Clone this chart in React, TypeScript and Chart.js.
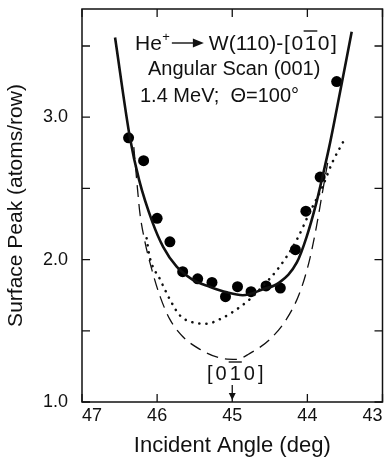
import React, { useEffect, useRef } from 'react';
import { Chart, registerables } from 'chart.js';

Chart.register(...registerables);

const FONT = "'Liberation Sans', Arial, Helvetica, sans-serif";
const INK = '#111';

// Axis ticks (ascending values)
const xTickValues = [43, 44, 45, 46, 47];
const yTickValues = [1.0, 1.5, 2.0, 2.5, 3.0, 3.5];
const yLabelledTicks = [1.0, 2.0, 3.0];

// Measured data (filled circles)
const dataAngles = [46.38, 46.18, 46.0, 45.83, 45.66, 45.46, 45.27, 45.09, 44.93, 44.75, 44.55, 44.36, 44.16, 44.02, 43.83, 43.61];
const dataPeaks = [2.855, 2.695, 2.29, 2.125, 1.915, 1.865, 1.84, 1.74, 1.81, 1.775, 1.815, 1.8, 2.07, 2.34, 2.58, 3.25];

// Solid calculated curve
const solidAngles = [46.56, 46.36, 46.24, 46.06, 45.92, 45.74, 45.53, 45.3, 45.07, 44.86, 44.6, 44.37, 44.14, 44.01, 43.88, 43.8, 43.71, 43.63, 43.41];
const solidPeaks = [3.56, 2.85, 2.56, 2.26, 2.09, 1.95, 1.86, 1.81, 1.77, 1.75, 1.79, 1.84, 1.98, 2.16, 2.4, 2.58, 2.79, 3.0, 3.6];

// Dotted calculated curve
const dottedAngles = [46.14, 46.1, 45.96, 45.83, 45.7, 45.53, 45.34, 45.17, 45.0, 44.77, 44.6, 44.37, 44.14, 43.97, 43.8, 43.67, 43.51];
const dottedPeaks = [2.15, 2.02, 1.86, 1.72, 1.61, 1.56, 1.55, 1.58, 1.63, 1.72, 1.81, 1.95, 2.14, 2.33, 2.51, 2.68, 2.84];

// Dashed calculated curve
const dashedAngles = [46.31, 46.26, 46.23, 46.16, 46.06, 45.96, 45.83, 45.66, 45.43, 45.17, 44.94, 44.77, 44.5, 44.28, 44.1, 43.97, 43.88, 43.81, 43.73];
const dashedPeaks = [2.79, 2.49, 2.33, 2.12, 1.91, 1.74, 1.58, 1.46, 1.37, 1.31, 1.3, 1.34, 1.44, 1.58, 1.77, 2.0, 2.23, 2.44, 2.68];

// Texts
const xTitle = 'Incident Angle (deg)';
const yTitle = 'Surface Peak (atoms/row)';
const line2 = 'Angular Scan (001)';
const line3 = '1.4 MeV;  \u0398=100\u00B0';
const directionAngle = 45;

const pts = (xs: number[], ys: number[]) => xs.map((x, i) => ({ x, y: ys[i] }));

function drawSpaced(
  ctx: CanvasRenderingContext2D,
  chars: string[],
  startX: number,
  baseline: number,
  spacing: number,
  overIdx: number,
  capH: number
) {
  let cx = startX;
  chars.forEach((c, i) => {
    const w = ctx.measureText(c).width;
    ctx.fillText(c, cx, baseline);
    if (i === overIdx) {
      ctx.beginPath();
      ctx.lineWidth = 1.4;
      ctx.moveTo(cx - 1, baseline - capH - 4);
      ctx.lineTo(cx + w + 1, baseline - capH - 4);
      ctx.stroke();
    }
    cx += w + spacing;
  });
  return cx;
}

function spacedWidth(ctx: CanvasRenderingContext2D, chars: string[], spacing: number) {
  return chars.reduce((s, c) => s + ctx.measureText(c).width, 0) + spacing * (chars.length - 1);
}

const framePlugin = {
  id: 'framePlugin',
  afterDraw(chart: any) {
    const { ctx, chartArea: a, scales } = chart;
    const x = scales.x;
    const y = scales.y;
    ctx.save();
    ctx.strokeStyle = INK;
    ctx.fillStyle = INK;
    ctx.lineWidth = 1.5;
    ctx.strokeRect(a.left, a.top, a.right - a.left, a.bottom - a.top);

    // inward ticks
    ctx.lineWidth = 1.3;
    xTickValues.forEach((v) => {
      const px = x.getPixelForValue(v);
      ctx.beginPath();
      ctx.moveTo(px, a.bottom);
      ctx.lineTo(px, a.bottom - 8);
      ctx.moveTo(px, a.top);
      ctx.lineTo(px, a.top + 8);
      ctx.stroke();
    });
    yTickValues.forEach((v) => {
      const py = y.getPixelForValue(v);
      ctx.beginPath();
      ctx.moveTo(a.left, py);
      ctx.lineTo(a.left + 8, py);
      ctx.moveTo(a.right, py);
      ctx.lineTo(a.right - 8, py);
      ctx.stroke();
    });

    ctx.textBaseline = 'alphabetic';
    ctx.textAlign = 'left';

    // Line 1: He+ -> W(110)-[0-10]
    ctx.font = `21px ${FONT}`;
    const l1x = a.left + 53;
    const l1y = a.top + 41;
    ctx.fillText('He', l1x, l1y);
    const heW = ctx.measureText('He').width;
    ctx.font = `13px ${FONT}`;
    ctx.fillText('+', l1x + heW + 0.5, l1y - 9);
    // arrow
    const arrStart = l1x + heW + 10;
    const arrEnd = arrStart + 32;
    const arrY = l1y - 7;
    ctx.lineWidth = 1.4;
    ctx.beginPath();
    ctx.moveTo(arrStart, arrY);
    ctx.lineTo(arrEnd - 8, arrY);
    ctx.stroke();
    ctx.beginPath();
    ctx.moveTo(arrEnd, arrY);
    ctx.lineTo(arrEnd - 11, arrY - 4.5);
    ctx.lineTo(arrEnd - 11, arrY + 4.5);
    ctx.closePath();
    ctx.fill();
    ctx.font = `21px ${FONT}`;
    const wText = 'W(110)-';
    const wx = arrEnd + 5;
    ctx.fillText(wText, wx, l1y);
    const afterW = wx + ctx.measureText(wText).width + 1;
    drawSpaced(ctx, ['[', '0', '1', '0', ']'], afterW, l1y, 1.5, 2, 15);

    // Line 2 and 3
    ctx.font = `20px ${FONT}`;
    ctx.fillText(line2, a.left + 66, a.top + 66);
    ctx.fillText(line3, a.left + 58, a.top + 93);

    // [0-10] direction label with arrow
    const dx = x.getPixelForValue(directionAngle);
    ctx.font = `20px ${FONT}`;
    const chars = ['[', '0', '1', '0', ']'];
    const sp = 3;
    const tw = spacedWidth(ctx, chars, sp);
    drawSpaced(ctx, chars, dx + 3 - tw / 2, a.bottom - 22, sp, 2, 14);
    ctx.lineWidth = 1.3;
    ctx.beginPath();
    ctx.moveTo(dx, a.bottom - 17);
    ctx.lineTo(dx, a.bottom - 6);
    ctx.stroke();
    ctx.beginPath();
    ctx.moveTo(dx, a.bottom - 2);
    ctx.lineTo(dx - 3.5, a.bottom - 9);
    ctx.lineTo(dx + 3.5, a.bottom - 9);
    ctx.closePath();
    ctx.fill();
    ctx.restore();
  },
};

export default function App() {
  const ref = useRef<HTMLCanvasElement | null>(null);

  useEffect(() => {
    if (!ref.current) return;
    const chart = new Chart(ref.current, {
      type: 'line',
      data: {
        datasets: [
          {
            label: 'dashed',
            data: pts(dashedAngles, dashedPeaks),
            borderColor: INK,
            borderWidth: 1.3,
            borderDash: [12, 7],
            pointRadius: 0,
            cubicInterpolationMode: 'monotone',
            fill: false,
          },
          {
            label: 'dotted',
            data: pts(dottedAngles, dottedPeaks),
            borderColor: INK,
            borderWidth: 2.6,
            borderDash: [0.1, 7],
            borderCapStyle: 'round',
            pointRadius: 0,
            cubicInterpolationMode: 'monotone',
            fill: false,
          },
          {
            label: 'solid',
            data: pts(solidAngles, solidPeaks),
            borderColor: INK,
            borderWidth: 2.6,
            pointRadius: 0,
            cubicInterpolationMode: 'monotone',
            fill: false,
          },
          {
            label: 'data',
            data: pts(dataAngles, dataPeaks),
            showLine: false,
            pointRadius: 5.5,
            pointBackgroundColor: '#000',
            pointBorderWidth: 0,
            borderColor: '#000',
          },
        ],
      } as any,
      options: {
        responsive: false,
        animation: false,
        events: [],
        layout: { padding: { left: 0, right: 5, top: 9, bottom: 0 } },
        plugins: {
          legend: { display: false },
          tooltip: { enabled: false },
        },
        scales: {
          x: {
            type: 'linear',
            min: 43,
            max: 47,
            reverse: true,
            grid: { display: false, drawTicks: false },
            border: { display: false },
            afterBuildTicks: (s: any) => {
              s.ticks = xTickValues.map((v) => ({ value: v }));
            },
            afterFit: (s: any) => {
              s.height = 57;
              s.paddingLeft = 0;
              s.paddingRight = 0;
            },
            ticks: {
              align: 'inner',
              padding: 3,
              color: INK,
              font: { size: 18, family: FONT },
              callback: (v: any) => String(v),
            },
            title: {
              display: true,
              text: xTitle,
              color: INK,
              font: { size: 22, family: FONT },
              padding: { top: 0, bottom: 0 },
            },
          },
          y: {
            type: 'linear',
            min: 1.0,
            max: 3.76,
            grid: { display: false, drawTicks: false },
            border: { display: false },
            afterBuildTicks: (s: any) => {
              s.ticks = yTickValues.map((v) => ({ value: v }));
            },
            afterFit: (s: any) => {
              s.width = 82;
              s.paddingTop = 0;
              s.paddingBottom = 0;
            },
            ticks: {
              padding: 14,
              color: INK,
              font: { size: 18, family: FONT },
              callback: (v: any) => (yLabelledTicks.includes(Number(v)) ? Number(v).toFixed(1) : ''),
            },
            title: {
              display: true,
              text: yTitle,
              color: INK,
              font: { size: 21, family: FONT },
              padding: { top: 4, bottom: 0 },
            },
          },
        },
      } as any,
      plugins: [framePlugin],
    });
    return () => chart.destroy();
  }, []);

  return (
    <div style={{ position: 'absolute', left: 0, top: 0, width: 388, height: 459, background: '#fff' }}>
      <canvas ref={ref} width={388} height={459} style={{ display: 'block', width: 388, height: 459 }} />
    </div>
  );
}
